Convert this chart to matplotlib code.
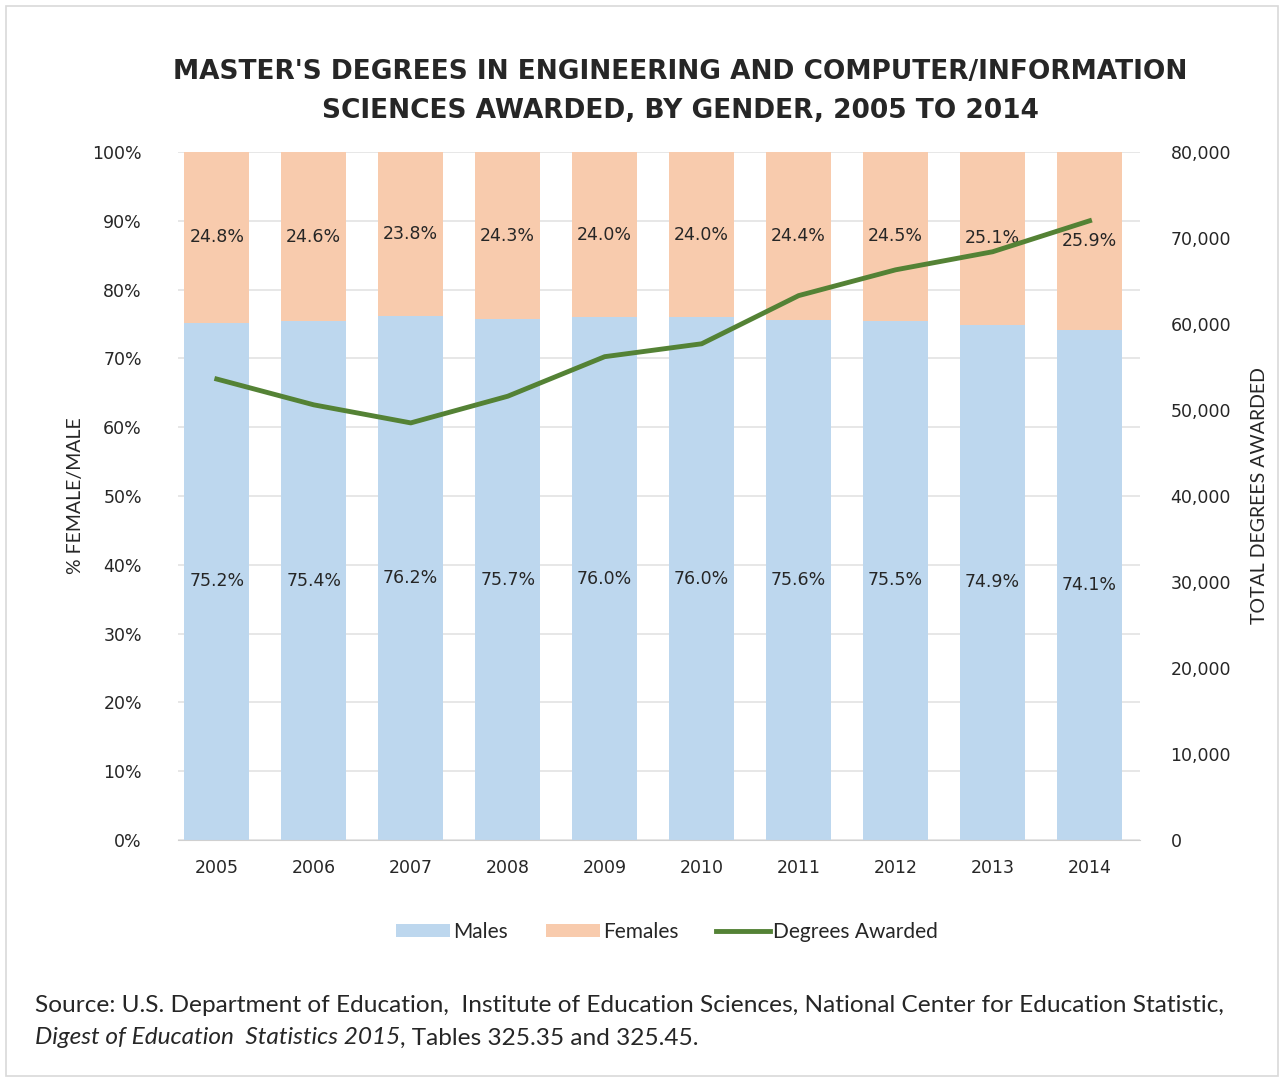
import numpy as np
import matplotlib.pyplot as plt
from matplotlib.patches import Rectangle

years = ["2005", "2006", "2007", "2008", "2009", "2010", "2011", "2012", "2013", "2014"]
males_pct = [75.2, 75.4, 76.2, 75.7, 76.0, 76.0, 75.6, 75.5, 74.9, 74.1]
females_pct = [24.8, 24.6, 23.8, 24.3, 24.0, 24.0, 24.4, 24.5, 25.1, 25.9]
degrees_awarded = [53600, 50600, 48500, 51600, 56200, 57700, 63300, 66300, 68400, 72000]

male_color = "#BDD7EE"
female_color = "#F8CBAD"
line_color = "#548235"
text_color = "#262626"
narrow = "Lato"

fig = plt.figure(figsize=(12.84, 10.82), dpi=100)
ax = fig.add_axes([178 / 1284, 1 - 840 / 1082, (1140 - 178) / 1284, (840 - 152) / 1082])

x = np.arange(len(years))
ax.bar(x, males_pct, width=0.67, color=male_color, label="Males", zorder=2)
ax.bar(x, females_pct, width=0.67, bottom=males_pct, color=female_color, label="Females", zorder=2)

for i in range(len(years)):
    ax.text(x[i], males_pct[i] / 2, f"{males_pct[i]:.1f}%", ha="center", va="center",
            fontsize=12.5, color=text_color, zorder=4)
    ax.text(x[i], males_pct[i] + females_pct[i] / 2, f"{females_pct[i]:.1f}%", ha="center",
            va="center", fontsize=12.5, color=text_color, zorder=4)

ax.set_xlim(-0.4, 9.52)
ax.set_ylim(0, 100)
ax.set_yticks(np.arange(0, 101, 10))
ax.set_yticklabels([f"{v}%" for v in range(0, 101, 10)])
ax.set_xticks(x)
ax.set_xticklabels(years)
ax.yaxis.grid(True, color="#E3E3E3", linewidth=1.2, zorder=0)
ax.set_axisbelow(True)
for s in ["top", "right", "left"]:
    ax.spines[s].set_visible(False)
ax.spines["bottom"].set_color("#D0D0D0")
ax.tick_params(axis="both", length=0, labelsize=12.5, colors=text_color)
ax.tick_params(axis="x", pad=14)
ax.tick_params(axis="y", pad=26)
ax.set_ylabel("% FEMALE/MALE", fontsize=14, color=text_color, family=narrow, labelpad=6)

ax2 = ax.twinx()
ax2.plot(x, degrees_awarded, color=line_color, linewidth=3.5, label="Degrees Awarded", zorder=3)
ax2.set_ylim(0, 80000)
ax2.set_yticks(np.arange(0, 80001, 10000))
ax2.set_yticklabels(["0"] + [f"{v:,}" for v in range(10000, 80001, 10000)])
for s in ["top", "right", "left", "bottom"]:
    ax2.spines[s].set_visible(False)
ax2.tick_params(axis="y", length=0, labelsize=12.5, colors=text_color, pad=22)
ax2.set_ylabel("TOTAL DEGREES AWARDED", fontsize=14, color=text_color, family=narrow, labelpad=14)

fig.text(680 / 1284, 1 - 72 / 1082, "MASTER'S DEGREES IN ENGINEERING AND COMPUTER/INFORMATION",
         ha="center", va="center", fontsize=19, fontweight="bold", color=text_color)
fig.text(680 / 1284, 1 - 111 / 1082, "SCIENCES AWARDED, BY GENDER, 2005 TO 2014",
         ha="center", va="center", fontsize=19, fontweight="bold", color=text_color)

handles1, labels1 = ax.get_legend_handles_labels()
handles2, labels2 = ax2.get_legend_handles_labels()
fig.legend(handles1 + handles2, labels1 + labels2, loc="center",
           bbox_to_anchor=(667 / 1284, 1 - 932 / 1082), ncol=3, frameon=False,
           handlelength=2.6, handleheight=0.6, columnspacing=1.8, handletextpad=0.15,
           prop={"family": narrow, "size": 15}, labelcolor=text_color)

src = fig.text(35 / 1284, 1 - 1005 / 1082,
               "Source: U.S. Department of Education,  Institute of Education Sciences, "
               "National Center for Education Statistic,",
               ha="left", va="center", fontsize=17.6, color=text_color, family=narrow)
ital = fig.text(35 / 1284, 1 - 1038 / 1082, "Digest of Education  Statistics 2015",
                ha="left", va="center", fontsize=17.6, color=text_color, style="italic", family=narrow)
fig.canvas.draw()
ital_box = ital.get_window_extent().transformed(fig.transFigure.inverted())
fig.text(ital_box.x1, 1 - 1038 / 1082, ", Tables 325.35 and 325.45.",
         ha="left", va="center", fontsize=17.6, color=text_color, family=narrow)

fig.patches.append(Rectangle((6 / 1284, 6 / 1082), 1 - 12 / 1284, 1 - 12 / 1082,
                             transform=fig.transFigure, fill=False, edgecolor="#D9D9D9",
                             linewidth=1.2))

fig.savefig("out.png", dpi=100)
